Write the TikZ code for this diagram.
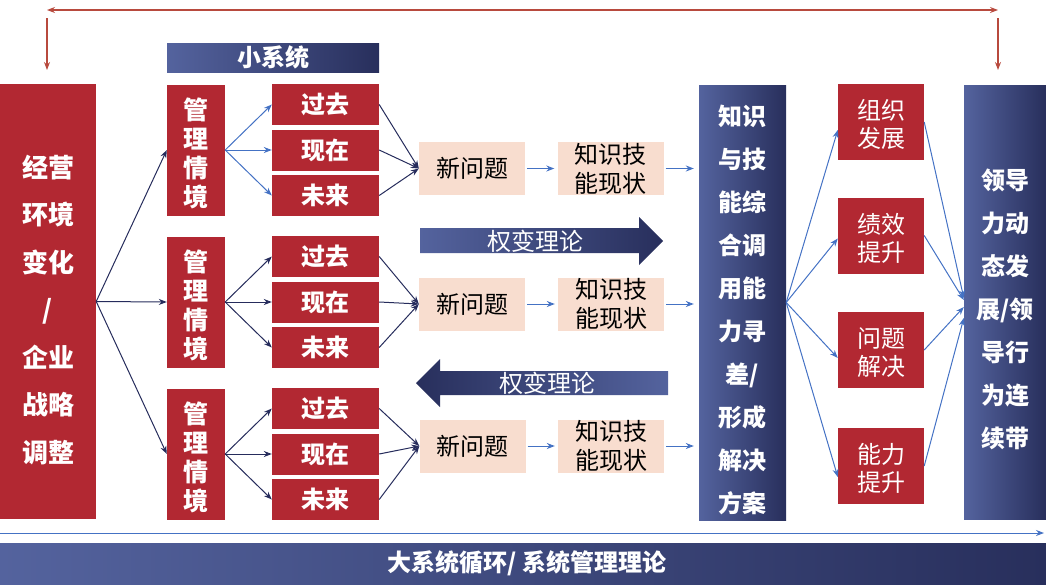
\documentclass[tikz,border=0pt]{standalone}
\usepackage{fontspec}
\setmainfont{Noto Sans CJK SC}
\usetikzlibrary{arrows.meta}
\definecolor{boxred}{RGB}{178,40,50}
\definecolor{navyL}{RGB}{84,99,158}
\definecolor{navyD}{RGB}{40,47,92}
\definecolor{peach}{RGB}{248,221,207}
\definecolor{linkblue}{RGB}{68,114,196}
\definecolor{linknavy}{RGB}{38,44,92}
\definecolor{loopred}{RGB}{184,74,62}
\newcommand{\padtop}[1]{\rule{0pt}{#1}}
\tikzstyle{every picture}=[>={Stealth[length=8pt,width=6pt]}]
\tikzset{
  redbox/.style={fill=boxred, text=white, inner sep=0pt, align=center},
  bluebox/.style={left color=navyL, right color=navyD, text=white, inner sep=0pt, align=center},
  timebox/.style={redbox, minimum width=107pt, minimum height=41pt, font=\fontsize{24}{28}\selectfont\bfseries},
  sitbox/.style={redbox, minimum width=58pt, minimum height=131pt, font=\fontsize{25}{29}\selectfont\bfseries},
  goalbox/.style={redbox, minimum width=86pt, minimum height=76pt, font=\fontsize{24}{28}\selectfont},
  peachbox/.style={fill=peach, text=black, inner sep=0pt, align=center, minimum width=106pt, minimum height=53pt, font=\fontsize{24}{29}\selectfont},
  navyline/.style={draw=linknavy, line width=1pt, ->},
  blueline/.style={draw=linkblue, line width=1pt, ->},
  loopline/.style={draw=loopred, line width=1.2pt},
}

\begin{document}
\begin{tikzpicture}[x=1pt,y=-1pt]
    \useasboundingbox (0,0) rectangle (1046,584);

    % feedback loop on top
    \coordinate (loopL) at (47,10);
    \coordinate (loopR) at (998,10);
    \coordinate (dropLa) at (47,18);
    \coordinate (dropLb) at (47,70);
    \coordinate (dropRa) at (998,18);
    \coordinate (dropRb) at (998,70);
    \draw[loopline,<->] (loopL) -- (loopR);
    \draw[loopline,->] (dropLa) -- (dropLb);
    \draw[loopline,->] (dropRa) -- (dropRb);

    \node[redbox, minimum width=96pt, minimum height=435pt, font=\fontsize{26}{47.5}\selectfont\bfseries] (env) at (48,301.5)
      {\padtop{39pt}经营\\环境\\变化\\/\\企业\\战略\\调整};

    \node[bluebox, minimum width=212pt, minimum height=29pt, font=\fontsize{24}{28}\selectfont\bfseries] (smallsys) at (273,57.5) {小系统};

    \node[sitbox] (sit1) at (196,150) {\padtop{28pt}管\\理\\情\\境};
    \node[sitbox] (sit2) at (196,302) {\padtop{28pt}管\\理\\情\\境};
    \node[sitbox] (sit3) at (196,454) {\padtop{28pt}管\\理\\情\\境};

    \node[timebox] (past1) at (325.5,104.5) {过去};
    \node[timebox] (now1) at (325.5,150) {现在};
    \node[timebox] (fut1) at (325.5,195.5) {未来};
    \node[timebox] (past2) at (325.5,256.5) {过去};
    \node[timebox] (now2) at (325.5,302) {现在};
    \node[timebox] (fut2) at (325.5,347.5) {未来};
    \node[timebox] (past3) at (325.5,408.5) {过去};
    \node[timebox] (now3) at (325.5,454) {现在};
    \node[timebox] (fut3) at (325.5,499.5) {未来};

    \node[peachbox] (new1) at (472,168.5) {新问题};
    \node[peachbox] (new2) at (472,304) {新问题};
    \node[peachbox] (new3) at (472.5,446) {新问题};
    \node[peachbox] (know1) at (610.5,168.5) {知识技\\能现状};
    \node[peachbox] (know2) at (611,304) {知识技\\能现状};
    \node[peachbox] (know3) at (611,446) {知识技\\能现状};

    % contingency arrows
    \shade[left color=navyL, right color=navyD] (420,228) -- (639,228) -- (639,217) -- (663,241) -- (639,265) -- (639,253) -- (420,253) -- cycle;
    \node[text=white, font=\fontsize{24}{28}\selectfont] (theoryR) at (535,241) {权变理论};
    \shade[left color=navyD, right color=navyL] (668,371) -- (440,371) -- (440,359) -- (416,383) -- (440,407) -- (440,395) -- (668,395) -- cycle;
    \node[text=white, font=\fontsize{24}{28}\selectfont] (theoryL) at (547,383) {权变理论};

    \node[bluebox, minimum width=87pt, minimum height=435pt, font=\fontsize{24}{43}\selectfont\bfseries] (big) at (742.5,302.5)
      {\padtop{35pt}知识\\与技\\能综\\合调\\用能\\力寻\\差/\\形成\\解决\\方案};

    \node[goalbox] (org) at (881,122) {\padtop{25pt}组织\\发展};
    \node[goalbox] (perf) at (881,235.5) {\padtop{25pt}绩效\\提升};
    \node[goalbox] (solve) at (881,350) {\padtop{25pt}问题\\解决};
    \node[goalbox] (abil) at (881,466) {\padtop{25pt}能力\\提升};

    \node[bluebox, minimum width=82pt, minimum height=434pt, font=\fontsize{24}{43}\selectfont\bfseries] (lead) at (1005,302)
      {\padtop{35pt}领导\\力动\\态发\\展/领\\导行\\为连\\续带};

    \node[bluebox, minimum width=1046pt, minimum height=41pt, font=\fontsize{24}{28}\selectfont\bfseries] (bigsys) at (523,563.5)
      {\hspace{8pt}大系统循环/ 系统管理理论};
    \coordinate (flowL) at (0,533);
    \coordinate (flowR) at (1044,533);
    \draw[blueline] (flowL) -- (flowR);

    \draw[navyline] (env.east) -- (sit1.west);
    \draw[navyline] (env.east) -- (sit2.west);
    \draw[navyline] (env.east) -- (sit3.west);

    \draw[blueline] (sit1.east) -- (past1.west);
    \draw[blueline] (sit1.east) -- (now1.west);
    \draw[blueline] (sit1.east) -- (fut1.west);
    \draw[navyline] (sit2.east) -- (past2.west);
    \draw[navyline] (sit2.east) -- (now2.west);
    \draw[navyline] (sit2.east) -- (fut2.west);
    \draw[navyline] (sit3.east) -- (past3.west);
    \draw[navyline] (sit3.east) -- (now3.west);
    \draw[navyline] (sit3.east) -- (fut3.west);

    \draw[navyline] (past1.east) -- (new1.west);
    \draw[navyline] (now1.east) -- (new1.west);
    \draw[navyline] (fut1.east) -- (new1.west);
    \draw[navyline] (past2.east) -- (new2.west);
    \draw[navyline] (now2.east) -- (new2.west);
    \draw[navyline] (fut2.east) -- (new2.west);
    \draw[navyline] (past3.east) -- (new3.west);
    \draw[navyline] (now3.east) -- (new3.west);
    \draw[navyline] (fut3.east) -- (new3.west);

    \draw[blueline, shorten <=2pt, shorten >=3pt] (new1.east) -- (know1.west);
    \draw[blueline, shorten <=2pt, shorten >=3pt] (new2.east) -- (know2.west);
    \draw[blueline, shorten <=2pt, shorten >=3pt] (new3.east) -- (know3.west);
    \draw[blueline, shorten <=2pt, shorten >=5pt] (know1.east) -- (big.west |- know1.east);
    \draw[blueline, shorten <=2pt, shorten >=5pt] (know2.east) -- (big.west |- know2.east);
    \draw[blueline, shorten <=2pt, shorten >=5pt] (know3.east) -- (big.west |- know3.east);

    \draw[blueline] (big.east) -- ([yshift=-8pt]org.west);
    \draw[blueline] (big.east) -- ([yshift=-3pt]perf.west);
    \draw[blueline] (big.east) -- ([yshift=-8pt]solve.west);
    \draw[blueline] (big.east) -- ([yshift=-11pt]abil.west);

    \draw[blueline] (org.east) -- ([yshift=4pt]lead.west);
    \draw[blueline] (perf.east) -- ([yshift=2pt]lead.west);
    \draw[blueline] (solve.east) -- ([yshift=-5pt]lead.west);
    \draw[blueline] (abil.east) -- ([yshift=-16pt]lead.west);
  \end{tikzpicture}
\end{document}
